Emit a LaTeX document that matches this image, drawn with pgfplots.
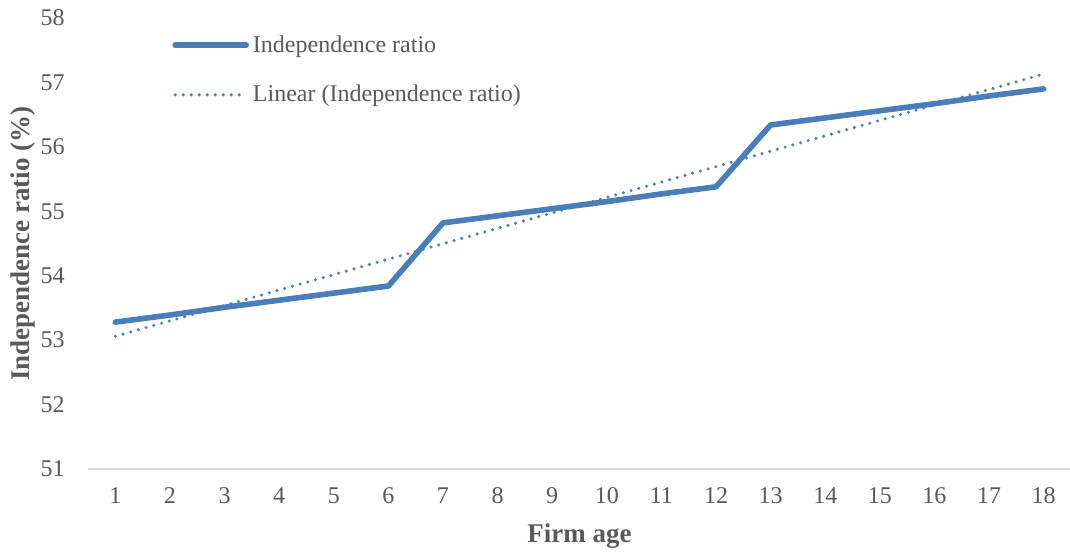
\documentclass[border=0pt]{standalone}
\usepackage{fontspec}
\setmainfont{Liberation Serif}
\usepackage{pgfplots}
\pgfplotsset{compat=1.18}
\definecolor{lineblue}{HTML}{4A7EBB}
\definecolor{textgray}{HTML}{595959}
\definecolor{axisgray}{HTML}{D9D9D9}
\begin{document}
\begin{tikzpicture}
\begin{axis}[
  scale only axis,
  width=491.5pt, height=225.5pt,
  xmin=0.5, xmax=18.5,
  ymin=51, ymax=58,
  xtick={1,...,18},
  xticklabels={1,2,3,4,5,6,7,8,9,10,11,12,13,14,15,16,17,18},
  ytick={51,...,58},
  yticklabels={51,52,53,54,55,56,57,58},
  tick style={draw=none},
  axis line style={draw=none},
  axis x line*=bottom,
  axis y line*=left,
  ticklabel style={font=\fontsize{12}{14}\selectfont, text=textgray},
  yticklabel style={inner sep=0pt, xshift=-11.5pt},
  xticklabel style={inner sep=0pt, yshift=-9pt},
  xlabel={Firm age},
  ylabel={Independence ratio (\%)},
  label style={font=\fontsize{13.5}{16}\selectfont\bfseries, text=textgray},
  xlabel style={at={(axis description cs:0.5,-0.1486)}, anchor=center},
  ylabel style={at={(axis description cs:-0.066,0.5)}, anchor=center},
  legend style={at={(rel axis cs:0,1)}, anchor=north west, xshift=42pt, yshift=-8.5pt,
    draw=none, fill=none, inner sep=0pt, row sep=15pt, column sep=2pt,
    nodes={inner sep=0pt, text=textgray, font=\fontsize{12}{14}\selectfont}},
  legend cell align=left,
  legend image code/.code={\draw[#1] (0pt,0pt) -- (35.5pt,0pt);},
  clip=false,
]
\draw[axisgray, line width=1pt] (rel axis cs:0,0) -- (rel axis cs:1,0);
\coordinate (bl) at (rel axis cs:0,0);
\addplot[lineblue, line width=2.8pt, line join=round, line cap=round] coordinates {
(1,53.28) (2,53.39) (3,53.51) (4,53.62) (5,53.73) (6,53.84)
(7,54.82) (8,54.93) (9,55.04) (10,55.15) (11,55.27) (12,55.38)
(13,56.34) (14,56.45) (15,56.56) (16,56.67) (17,56.79) (18,56.90)
};
\addlegendentry{Independence ratio}
\addplot[lineblue, line width=1.7pt, line cap=round, dash pattern=on 0pt off 4pt] coordinates {
(1,53.06) (18,57.13)
};
\addlegendentry{Linear (Independence ratio)}
\end{axis}
\pgfresetboundingbox
\path (bl) ++(-44pt,-41.5pt) rectangle ++(535pt,276pt);
\end{tikzpicture}
\end{document}
